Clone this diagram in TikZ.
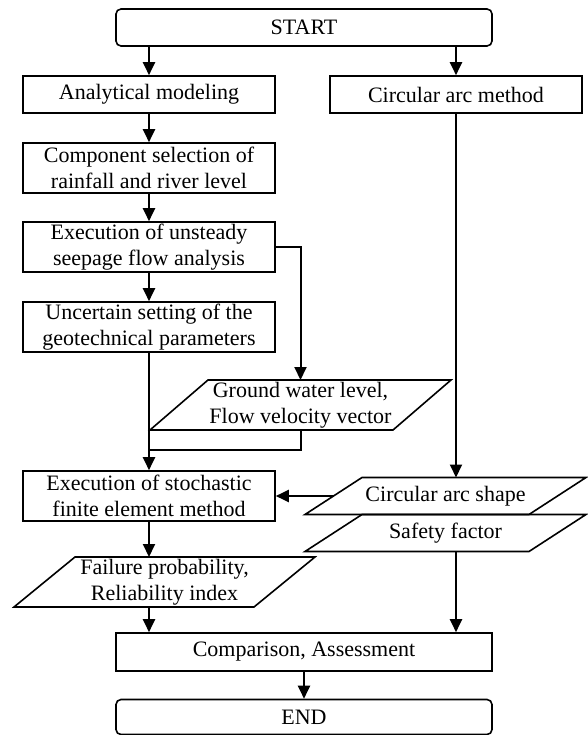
\documentclass[tikz,border=0pt]{standalone}
\usepackage{fontspec}
\setmainfont{Liberation Serif}
\usetikzlibrary{arrows.meta}

\tikzset{
  box/.style={draw, line width=1.6pt, rectangle, inner sep=0pt, align=center,
    minimum width=252pt, minimum height=37pt,
    font=\fontsize{22pt}{25.7pt}\selectfont},
  tall/.style={box, minimum height=50pt},
  term/.style={box, rounded corners=5pt, minimum width=376pt},
  io/.style={rectangle, inner sep=0pt, outer sep=0pt, align=center,
    minimum width=301pt, minimum height=50pt,
    font=\fontsize{22pt}{25.7pt}\selectfont},
}

\begin{document}
\begin{tikzpicture}[>={Triangle[length=13pt,width=12pt]}, line width=2pt]
\useasboundingbox (-304pt,27.5pt) rectangle (283pt,-707.5pt);
\node (start) [term] {START};
\node (ana) [box, node distance=67pt, below of=start, xshift=-155pt] {Analytical modeling};
\node (cam) [box, node distance=307pt, right of=ana] {Circular arc method};
\node (comp) [tall, node distance=73.5pt, below of=ana] {Component selection of\\rainfall and river level};
\node (seep) [tall, node distance=79pt, below of=comp] {Execution of unsteady\\seepage flow analysis};
\node (unc) [tall, node distance=80pt, below of=seep] {Uncertain setting of the\\geotechnical parameters};
\node (gwl) [io, node distance=78pt, below of=unc, xshift=151.5pt] {Ground water level,\\Flow velocity vector};
\node (sfem) [tall, node distance=169pt, below of=unc] {Execution of stochastic\\finite element method};
\node (arc) [io, minimum width=281pt, minimum height=37pt, node distance=296.5pt, right of=sfem] {Circular arc shape};
\node (fs) [io, minimum width=281pt, minimum height=37pt, node distance=37pt, below of=arc] {Safety factor};
\node (pf) [io, node distance=86pt, below of=sfem, xshift=15.5pt] {Failure probability,\\Reliability index};
\node (cmp) [box, minimum width=376pt, minimum height=38pt, node distance=156pt, below of=sfem, xshift=155pt] {Comparison, Assessment};
\node (end) [term, minimum height=35pt, node distance=65pt, below of=cmp] {END};
% data parallelograms
\foreach \n/\s in {gwl/58pt, arc/57pt, fs/57pt, pf/61pt}
  \draw[line width=1.6pt] ([xshift=\s]\n.north west) -- (\n.north east)
    -- ([xshift=-\s]\n.south east) -- (\n.south west) -- cycle;
\coordinate (join) at ([yshift=-20pt]gwl.south -| unc.south);
\draw[->] (start.south -| ana) -- (ana.north);
\draw[->] (start.south -| cam) -- (cam.north);
\draw[->] (ana) -- (comp);
\draw[->] (comp) -- (seep);
\draw[->] (seep) -- (unc);
\draw[->] (seep.east) -| (gwl.north);
\draw[->] (unc) -- (sfem);
\draw (gwl.south) |- (join);
\draw[->] (cam) -- (cam |- arc.north);
\draw[->] ([xshift=28pt]arc.west) -- (sfem.east);
\draw[->] (sfem.south) -- (sfem.south |- pf.north);
\draw[->] (pf.south -| sfem.south) -- (cmp.north -| sfem.south);
\draw[->] (fs.south -| cam) -- (cmp.north -| cam);
\draw[->] (cmp) -- (end);
\end{tikzpicture}
\end{document}
